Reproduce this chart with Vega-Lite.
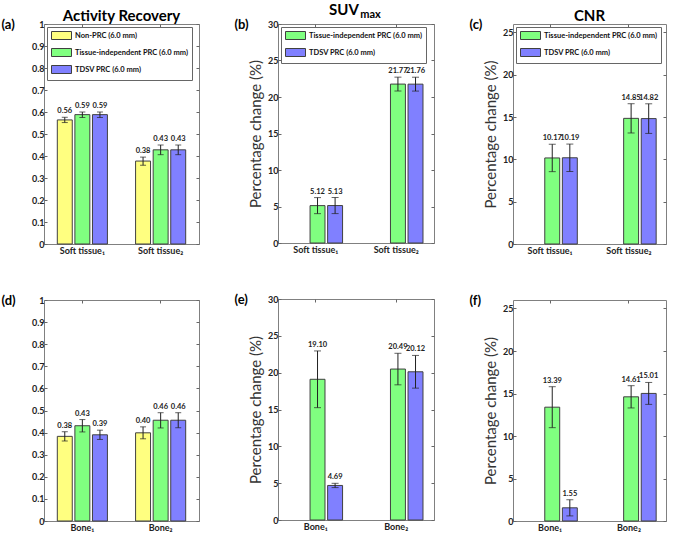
{
"$schema": "https://vega.github.io/schema/vega-lite/v6.json",
"padding": {"left": 0, "top": 2, "right": 2, "bottom": 0},
"spacing": 33,
"resolve": {"scale": {"color": "independent"}, "legend": {"color": "independent"}},
"hconcat": [
{
"spacing": 37,
"resolve": {"scale": {"color": "independent"}, "legend": {"color": "independent"}},
"vconcat": [
{
"width": 155, "height": 220,
"title": {"text": "Activity Recovery", "anchor": "middle", "frame": "group", "fontSize": 15, "offset": -6},
"data": {"values": [
{"cat": "Soft tissue₁", "series": "Non-PRC (6.0 mm)", "v": 0.564, "lo": 0.552, "hi": 0.576},
{"cat": "Soft tissue₁", "series": "Tissue-independent PRC (6.0 mm)", "v": 0.588, "lo": 0.575, "hi": 0.600},
{"cat": "Soft tissue₁", "series": "TDSV PRC (6.0 mm)", "v": 0.588, "lo": 0.575, "hi": 0.600},
{"cat": "Soft tissue₂", "series": "Non-PRC (6.0 mm)", "v": 0.377, "lo": 0.358, "hi": 0.395},
{"cat": "Soft tissue₂", "series": "Tissue-independent PRC (6.0 mm)", "v": 0.428, "lo": 0.406, "hi": 0.450},
{"cat": "Soft tissue₂", "series": "TDSV PRC (6.0 mm)", "v": 0.428, "lo": 0.406, "hi": 0.450}
]},
"encoding": {
"xOffset": {"field": "series", "type": "nominal", "sort": null, "scale": {"paddingInner": 0.15, "paddingOuter": 0}}
},
"layer": [
{"mark": "bar", "encoding": {
"x": {"field": "cat", "type": "nominal", "sort": null, "title": null, "scale": {"paddingInner": 0.36, "paddingOuter": 0.17}, "axis": {"orient": "bottom"}},
"y": {"field": "v", "type": "quantitative", "scale": {"domain": [0, 1]}, "axis": {"orient": "left", "values": [0,0.1,0.2,0.3,0.4,0.5,0.6,0.7,0.8,0.9,1], "format": "~g", "title": "(a)", "titleAngle": 0, "titleAlign": "left", "titleBaseline": "alphabetic", "titleX": -43, "titleY": 4, "titleFontSize": 13, "titleFontWeight": "bold", "titleColor": "#000"}},
"color": {"field": "series", "type": "nominal", "sort": null, "scale": {"domain": ["Non-PRC (6.0 mm)", "Tissue-independent PRC (6.0 mm)", "TDSV PRC (6.0 mm)"], "range": ["#ffff80", "#80ff80", "#8080ff"]}, "legend": {"orient": "top-left", "title": null}}}},
{"mark": "rule", "encoding": {
"x": {"field": "cat", "type": "nominal", "sort": null, "scale": {"paddingInner": 0.36, "paddingOuter": 0.17}, "axis": {"orient": "top", "labels": false, "ticks": true, "tickSize": -3, "title": null}},
"y": {"field": "lo", "type": "quantitative", "scale": {"domain": [0, 1]}, "axis": {"orient": "right", "values": [0,0.1,0.2,0.3,0.4,0.5,0.6,0.7,0.8,0.9,1], "labels": false, "title": null}},
"y2": {"field": "hi"}}},
{"mark": {"type": "tick", "size": 6}, "encoding": {"x": {"field": "cat", "type": "nominal", "sort": null, "axis": null}, "y": {"field": "lo", "type": "quantitative", "axis": null}}},
{"mark": {"type": "tick", "size": 6}, "encoding": {"x": {"field": "cat", "type": "nominal", "sort": null, "axis": null}, "y": {"field": "hi", "type": "quantitative", "axis": null}}},
{"mark": {"type": "text", "baseline": "bottom", "dy": -2}, "encoding": {"x": {"field": "cat", "type": "nominal", "sort": null, "axis": null}, "y": {"field": "hi", "type": "quantitative", "axis": null}, "text": {"field": "v", "type": "quantitative", "format": ".2f"}}}
],
"resolve": {"axis": {"x": "independent", "y": "independent"}}
},
{
"width": 155, "height": 221,
"data": {"values": [
{"cat": "Bone₁", "series": "Non-PRC (6.0 mm)", "v": 0.383, "lo": 0.362, "hi": 0.404},
{"cat": "Bone₁", "series": "Tissue-independent PRC (6.0 mm)", "v": 0.431, "lo": 0.403, "hi": 0.459},
{"cat": "Bone₁", "series": "TDSV PRC (6.0 mm)", "v": 0.390, "lo": 0.369, "hi": 0.411},
{"cat": "Bone₂", "series": "Non-PRC (6.0 mm)", "v": 0.399, "lo": 0.372, "hi": 0.426},
{"cat": "Bone₂", "series": "Tissue-independent PRC (6.0 mm)", "v": 0.456, "lo": 0.421, "hi": 0.490},
{"cat": "Bone₂", "series": "TDSV PRC (6.0 mm)", "v": 0.456, "lo": 0.422, "hi": 0.490}
]},
"encoding": {
"xOffset": {"field": "series", "type": "nominal", "sort": null, "scale": {"paddingInner": 0.15, "paddingOuter": 0}}
},
"layer": [
{"mark": "bar", "encoding": {
"x": {"field": "cat", "type": "nominal", "sort": null, "title": null, "scale": {"paddingInner": 0.36, "paddingOuter": 0.17}, "axis": {"orient": "bottom"}},
"y": {"field": "v", "type": "quantitative", "scale": {"domain": [0, 1]}, "axis": {"orient": "left", "values": [0,0.1,0.2,0.3,0.4,0.5,0.6,0.7,0.8,0.9,1], "format": "~g", "title": "(d)", "titleAngle": 0, "titleAlign": "left", "titleBaseline": "alphabetic", "titleX": -43, "titleY": 4, "titleFontSize": 13, "titleFontWeight": "bold", "titleColor": "#000"}},
"color": {"field": "series", "type": "nominal", "sort": null, "scale": {"domain": ["Non-PRC (6.0 mm)", "Tissue-independent PRC (6.0 mm)", "TDSV PRC (6.0 mm)"], "range": ["#ffff80", "#80ff80", "#8080ff"]}, "legend": null}}},
{"mark": "rule", "encoding": {
"x": {"field": "cat", "type": "nominal", "sort": null, "scale": {"paddingInner": 0.36, "paddingOuter": 0.17}, "axis": {"orient": "top", "labels": false, "ticks": true, "tickSize": -3, "title": null}},
"y": {"field": "lo", "type": "quantitative", "scale": {"domain": [0, 1]}, "axis": {"orient": "right", "values": [0,0.1,0.2,0.3,0.4,0.5,0.6,0.7,0.8,0.9,1], "labels": false, "title": null}},
"y2": {"field": "hi"}}},
{"mark": {"type": "tick", "size": 6}, "encoding": {"x": {"field": "cat", "type": "nominal", "sort": null, "axis": null}, "y": {"field": "lo", "type": "quantitative", "axis": null}}},
{"mark": {"type": "tick", "size": 6}, "encoding": {"x": {"field": "cat", "type": "nominal", "sort": null, "axis": null}, "y": {"field": "hi", "type": "quantitative", "axis": null}}},
{"mark": {"type": "text", "baseline": "bottom", "dy": -2}, "encoding": {"x": {"field": "cat", "type": "nominal", "sort": null, "axis": null}, "y": {"field": "hi", "type": "quantitative", "axis": null}, "text": {"field": "v", "type": "quantitative", "format": ".2f"}}}
],
"resolve": {"axis": {"x": "independent", "y": "independent"}}
}
]
},
{
"spacing": 37,
"resolve": {"scale": {"color": "independent"}, "legend": {"color": "independent"}},
"vconcat": [
{
"width": 156, "height": 219,
"title": {"text": "SUV", "anchor": "middle", "frame": "group", "fontSize": 15, "dx": -12, "offset": -10},
"data": {"values": [
{"cat": "Soft tissue₁", "series": "Tissue-independent PRC (6.0 mm)", "v": 5.12, "lo": 4.02, "hi": 6.22},
{"cat": "Soft tissue₁", "series": "TDSV PRC (6.0 mm)", "v": 5.13, "lo": 4.03, "hi": 6.23},
{"cat": "Soft tissue₂", "series": "Tissue-independent PRC (6.0 mm)", "v": 21.77, "lo": 20.82, "hi": 22.72},
{"cat": "Soft tissue₂", "series": "TDSV PRC (6.0 mm)", "v": 21.76, "lo": 20.81, "hi": 22.71}
]},
"encoding": {
"xOffset": {"field": "series", "type": "nominal", "sort": null, "scale": {"paddingInner": 0.17, "paddingOuter": 0}}
},
"layer": [
{"mark": "bar", "encoding": {
"x": {"field": "cat", "type": "nominal", "sort": null, "title": null, "scale": {"paddingInner": 0.42, "paddingOuter": 0.18}, "axis": {"orient": "bottom"}},
"y": {"field": "v", "type": "quantitative", "scale": {"domain": [0, 30]}, "axis": {"orient": "left", "values": [0,5,10,15,20,25,30], "title": "Percentage change (%)"}},
"color": {"field": "series", "type": "nominal", "sort": null, "scale": {"domain": ["Tissue-independent PRC (6.0 mm)", "TDSV PRC (6.0 mm)"], "range": ["#80ff80", "#8080ff"]}, "legend": {"orient": "top-left", "title": null}}}},
{"mark": "rule", "encoding": {
"x": {"field": "cat", "type": "nominal", "sort": null, "scale": {"paddingInner": 0.42, "paddingOuter": 0.18}, "axis": {"orient": "top", "labels": false, "ticks": true, "tickSize": -3, "title": "max", "titleX": 92, "titleY": -7, "titleAlign": "center", "titleBaseline": "alphabetic", "titleFontSize": 11, "titleFontWeight": "bold", "titleColor": "#000", "titleFont": "Lato"}},
"y": {"field": "lo", "type": "quantitative", "scale": {"domain": [0, 30]}, "axis": {"orient": "right", "values": [0,5,10,15,20,25,30], "labels": false, "title": "(b)", "titleAngle": 0, "titleAlign": "left", "titleBaseline": "alphabetic", "titleX": -200, "titleY": 4, "titleFontSize": 13, "titleFontWeight": "bold", "titleColor": "#000"}},
"y2": {"field": "hi"}}},
{"mark": {"type": "tick", "size": 7}, "encoding": {"x": {"field": "cat", "type": "nominal", "sort": null, "axis": null}, "y": {"field": "lo", "type": "quantitative", "axis": null}}},
{"mark": {"type": "tick", "size": 7}, "encoding": {"x": {"field": "cat", "type": "nominal", "sort": null, "axis": null}, "y": {"field": "hi", "type": "quantitative", "axis": null}}},
{"mark": {"type": "text", "baseline": "bottom", "dy": -2}, "encoding": {"x": {"field": "cat", "type": "nominal", "sort": null, "axis": null}, "y": {"field": "hi", "type": "quantitative", "axis": null}, "text": {"field": "v", "type": "quantitative", "format": ".2f"}}}
],
"resolve": {"axis": {"x": "independent", "y": "independent"}}
},
{
"width": 156, "height": 221,
"data": {"values": [
{"cat": "Bone₁", "series": "Tissue-independent PRC (6.0 mm)", "v": 19.10, "lo": 15.25, "hi": 22.95},
{"cat": "Bone₁", "series": "TDSV PRC (6.0 mm)", "v": 4.69, "lo": 4.40, "hi": 4.98},
{"cat": "Bone₂", "series": "Tissue-independent PRC (6.0 mm)", "v": 20.49, "lo": 18.35, "hi": 22.63},
{"cat": "Bone₂", "series": "TDSV PRC (6.0 mm)", "v": 20.12, "lo": 17.90, "hi": 22.34}
]},
"encoding": {
"xOffset": {"field": "series", "type": "nominal", "sort": null, "scale": {"paddingInner": 0.17, "paddingOuter": 0}}
},
"layer": [
{"mark": "bar", "encoding": {
"x": {"field": "cat", "type": "nominal", "sort": null, "title": null, "scale": {"paddingInner": 0.42, "paddingOuter": 0.18}, "axis": {"orient": "bottom"}},
"y": {"field": "v", "type": "quantitative", "scale": {"domain": [0, 30]}, "axis": {"orient": "left", "values": [0,5,10,15,20,25,30], "title": "Percentage change (%)"}},
"color": {"field": "series", "type": "nominal", "sort": null, "scale": {"domain": ["Tissue-independent PRC (6.0 mm)", "TDSV PRC (6.0 mm)"], "range": ["#80ff80", "#8080ff"]}, "legend": null}}},
{"mark": "rule", "encoding": {
"x": {"field": "cat", "type": "nominal", "sort": null, "scale": {"paddingInner": 0.42, "paddingOuter": 0.18}, "axis": {"orient": "top", "labels": false, "ticks": true, "tickSize": -3, "title": null}},
"y": {"field": "lo", "type": "quantitative", "scale": {"domain": [0, 30]}, "axis": {"orient": "right", "values": [0,5,10,15,20,25,30], "labels": false, "title": "(e)", "titleAngle": 0, "titleAlign": "left", "titleBaseline": "alphabetic", "titleX": -200, "titleY": 4, "titleFontSize": 13, "titleFontWeight": "bold", "titleColor": "#000"}},
"y2": {"field": "hi"}}},
{"mark": {"type": "tick", "size": 7}, "encoding": {"x": {"field": "cat", "type": "nominal", "sort": null, "axis": null}, "y": {"field": "lo", "type": "quantitative", "axis": null}}},
{"mark": {"type": "tick", "size": 7}, "encoding": {"x": {"field": "cat", "type": "nominal", "sort": null, "axis": null}, "y": {"field": "hi", "type": "quantitative", "axis": null}}},
{"mark": {"type": "text", "baseline": "bottom", "dy": -2}, "encoding": {"x": {"field": "cat", "type": "nominal", "sort": null, "axis": null}, "y": {"field": "hi", "type": "quantitative", "axis": null}, "text": {"field": "v", "type": "quantitative", "format": ".2f"}}}
],
"resolve": {"axis": {"x": "independent", "y": "independent"}}
}
]
},
{
"spacing": 37,
"resolve": {"scale": {"color": "independent"}, "legend": {"color": "independent"}},
"vconcat": [
{
"width": 153, "height": 220,
"title": {"text": "CNR", "anchor": "middle", "frame": "group", "fontSize": 15, "offset": -6},
"data": {"values": [
{"cat": "Soft tissue₁", "series": "Tissue-independent PRC (6.0 mm)", "v": 10.17, "lo": 8.55, "hi": 11.79},
{"cat": "Soft tissue₁", "series": "TDSV PRC (6.0 mm)", "v": 10.19, "lo": 8.57, "hi": 11.81},
{"cat": "Soft tissue₂", "series": "Tissue-independent PRC (6.0 mm)", "v": 14.85, "lo": 13.12, "hi": 16.58},
{"cat": "Soft tissue₂", "series": "TDSV PRC (6.0 mm)", "v": 14.82, "lo": 13.07, "hi": 16.57}
]},
"encoding": {
"xOffset": {"field": "series", "type": "nominal", "sort": null, "scale": {"paddingInner": 0.17, "paddingOuter": 0}}
},
"layer": [
{"mark": "bar", "encoding": {
"x": {"field": "cat", "type": "nominal", "sort": null, "title": null, "scale": {"paddingInner": 0.42, "paddingOuter": 0.18}, "axis": {"orient": "bottom"}},
"y": {"field": "v", "type": "quantitative", "scale": {"domain": [0, 25]}, "axis": {"orient": "left", "values": [0,5,10,15,20,25], "title": "Percentage change (%)"}},
"color": {"field": "series", "type": "nominal", "sort": null, "scale": {"domain": ["Tissue-independent PRC (6.0 mm)", "TDSV PRC (6.0 mm)"], "range": ["#80ff80", "#8080ff"]}, "legend": {"orient": "top-left", "title": null}}}},
{"mark": "rule", "encoding": {
"x": {"field": "cat", "type": "nominal", "sort": null, "scale": {"paddingInner": 0.42, "paddingOuter": 0.18}, "axis": {"orient": "top", "labels": false, "ticks": true, "tickSize": -3, "title": null}},
"y": {"field": "lo", "type": "quantitative", "scale": {"domain": [0, 25]}, "axis": {"orient": "right", "values": [0,5,10,15,20,25], "labels": false, "title": "(c)", "titleAngle": 0, "titleAlign": "left", "titleBaseline": "alphabetic", "titleX": -197, "titleY": 4, "titleFontSize": 13, "titleFontWeight": "bold", "titleColor": "#000"}},
"y2": {"field": "hi"}}},
{"mark": {"type": "tick", "size": 7}, "encoding": {"x": {"field": "cat", "type": "nominal", "sort": null, "axis": null}, "y": {"field": "lo", "type": "quantitative", "axis": null}}},
{"mark": {"type": "tick", "size": 7}, "encoding": {"x": {"field": "cat", "type": "nominal", "sort": null, "axis": null}, "y": {"field": "hi", "type": "quantitative", "axis": null}}},
{"mark": {"type": "text", "baseline": "bottom", "dy": -2}, "encoding": {"x": {"field": "cat", "type": "nominal", "sort": null, "axis": null}, "y": {"field": "hi", "type": "quantitative", "axis": null}, "text": {"field": "v", "type": "quantitative", "format": ".2f"}}}
],
"resolve": {"axis": {"x": "independent", "y": "independent"}}
},
{
"width": 153, "height": 221,
"data": {"values": [
{"cat": "Bone₁", "series": "Tissue-independent PRC (6.0 mm)", "v": 13.39, "lo": 10.98, "hi": 15.80},
{"cat": "Bone₁", "series": "TDSV PRC (6.0 mm)", "v": 1.55, "lo": 0.60, "hi": 2.50},
{"cat": "Bone₂", "series": "Tissue-independent PRC (6.0 mm)", "v": 14.61, "lo": 13.30, "hi": 15.92},
{"cat": "Bone₂", "series": "TDSV PRC (6.0 mm)", "v": 15.01, "lo": 13.72, "hi": 16.30}
]},
"encoding": {
"xOffset": {"field": "series", "type": "nominal", "sort": null, "scale": {"paddingInner": 0.17, "paddingOuter": 0}}
},
"layer": [
{"mark": "bar", "encoding": {
"x": {"field": "cat", "type": "nominal", "sort": null, "title": null, "scale": {"paddingInner": 0.42, "paddingOuter": 0.18}, "axis": {"orient": "bottom"}},
"y": {"field": "v", "type": "quantitative", "scale": {"domain": [0, 25]}, "axis": {"orient": "left", "values": [0,5,10,15,20,25], "title": "Percentage change (%)"}},
"color": {"field": "series", "type": "nominal", "sort": null, "scale": {"domain": ["Tissue-independent PRC (6.0 mm)", "TDSV PRC (6.0 mm)"], "range": ["#80ff80", "#8080ff"]}, "legend": null}}},
{"mark": "rule", "encoding": {
"x": {"field": "cat", "type": "nominal", "sort": null, "scale": {"paddingInner": 0.42, "paddingOuter": 0.18}, "axis": {"orient": "top", "labels": false, "ticks": true, "tickSize": -3, "title": null}},
"y": {"field": "lo", "type": "quantitative", "scale": {"domain": [0, 25]}, "axis": {"orient": "right", "values": [0,5,10,15,20,25], "labels": false, "title": "(f)", "titleAngle": 0, "titleAlign": "left", "titleBaseline": "alphabetic", "titleX": -197, "titleY": 4, "titleFontSize": 13, "titleFontWeight": "bold", "titleColor": "#000"}},
"y2": {"field": "hi"}}},
{"mark": {"type": "tick", "size": 7}, "encoding": {"x": {"field": "cat", "type": "nominal", "sort": null, "axis": null}, "y": {"field": "lo", "type": "quantitative", "axis": null}}},
{"mark": {"type": "tick", "size": 7}, "encoding": {"x": {"field": "cat", "type": "nominal", "sort": null, "axis": null}, "y": {"field": "hi", "type": "quantitative", "axis": null}}},
{"mark": {"type": "text", "baseline": "bottom", "dy": -2}, "encoding": {"x": {"field": "cat", "type": "nominal", "sort": null, "axis": null}, "y": {"field": "hi", "type": "quantitative", "axis": null}, "text": {"field": "v", "type": "quantitative", "format": ".2f"}}}
],
"resolve": {"axis": {"x": "independent", "y": "independent"}}
}
]
}
],
"config": {
"font": "Lato",
"view": {"stroke": "#808080", "strokeWidth": 1},
"axis": {"labelFont": "Lato", "labelFontWeight": "bold", "labelColor": "#222", "domain": false, "grid": false, "tickColor": "#666", "minExtent": 0},
"axisX": {"labelFontSize": 9, "labelAngle": 0, "ticks": true, "tickSize": -3, "labelPadding": 5},
"axisY": {"labelFontSize": 9, "tickSize": -3, "labelPadding": 3, "titleFont": "Lato", "titleFontSize": 15, "titleFontWeight": "normal", "titleColor": "#333", "titlePadding": 4},
"legend": {"offset": 3, "symbolType": "M-1,-1H4V1H-1Z", "symbolSize": 64, "symbolStrokeColor": "#404040", "symbolStrokeWidth": 1, "labelFont": "Lato", "labelFontSize": 7.5, "labelFontWeight": "bold", "labelColor": "#111", "fillColor": "white", "strokeColor": "#666", "padding": 4, "rowPadding": 4, "labelOffset": 15, "labelLimit": 220},
"title": {"font": "Lato", "fontWeight": "bold", "color": "#000"},
"bar": {"stroke": "#404040", "strokeWidth": 1},
"tick": {"thickness": 1, "color": "#222"},
"rule": {"color": "#222"},
"text": {"font": "Lato", "fontSize": 7.5, "fontWeight": "bold", "color": "#222"}
}
}
